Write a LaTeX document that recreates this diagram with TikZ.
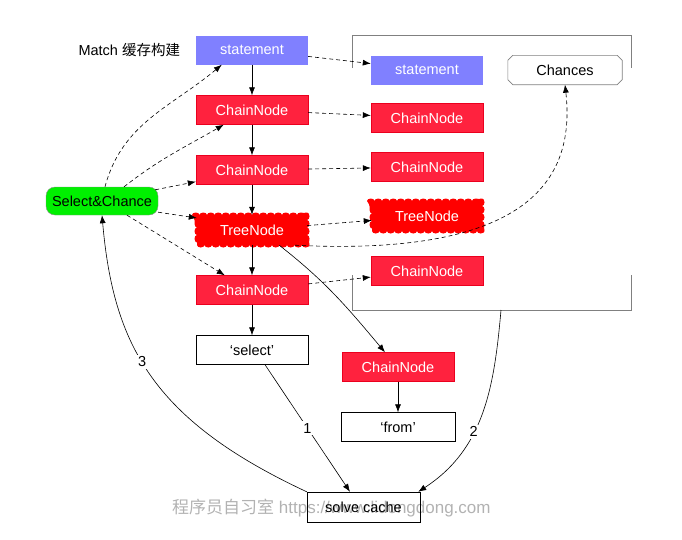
\documentclass[tikz,border=0pt]{standalone}
\usepackage{fontspec}
\setmainfont{Liberation Sans}
\newfontfamily\cjkfont{Noto Sans CJK SC}
\usepackage{tikz}
\usetikzlibrary{arrows.meta,decorations.pathmorphing}
\definecolor{stmtblue}{RGB}{128,128,255}
\definecolor{chainred}{RGB}{255,34,62}
\definecolor{chainedge}{RGB}{235,0,30}
\definecolor{treered}{RGB}{255,0,0}
\definecolor{selgreen}{RGB}{0,240,0}
\tikzstyle{stmtbox}=[rectangle,fill=stmtblue,text=white,minimum width=112pt,minimum height=29pt,inner sep=0pt]
\tikzstyle{chainbox}=[rectangle,draw=chainedge,fill=chainred,text=white,minimum width=112pt,minimum height=29pt,inner sep=0pt]
\tikzstyle{treebox}=[rectangle,fill=treered,text=white,minimum width=110pt,minimum height=30pt,inner sep=0pt,decorate,decoration={bumps,mirror,segment length=15pt,amplitude=2.5pt}]
\tikzstyle{plainbox}=[rectangle,draw=black,fill=white,minimum width=112pt,minimum height=29pt,inner sep=0pt]
\tikzstyle{chancebox}=[rectangle,minimum width=114pt,minimum height=29pt,inner sep=0pt]
\tikzstyle{chanceline}=[draw=black!50,line width=0.6pt]
\tikzstyle{selbox}=[rectangle,rounded corners=9pt,draw=black!45,fill=selgreen,minimum width=112pt,minimum height=28pt,inner sep=0pt]
\tikzstyle{frame}=[draw=black!50,line width=0.6pt]
\tikzstyle{numlabel}=[fill=white,inner sep=2pt]
\tikzstyle{wmtext}=[text=black!30,inner sep=0pt,font=\fontsize{17}{19}\selectfont]
\tikzstyle{edge} = [draw,line width=0.6pt,-{Latex[length=8pt,width=6pt]}]
\tikzstyle{cacheedge} = [draw,line width=0.6pt,dash pattern=on 4pt off 3pt,-{Latex[length=8pt,width=6pt]}]

\begin{document}
\begin{tikzpicture}[x=1pt,y=1pt,font=\fontsize{14.5}{17}\selectfont]
    \useasboundingbox (0,0) rectangle (682,-539);
    % Frame round the cached copy
    \path[frame] (352,-68) -- (352,-35) -- (631,-35) -- (631,-68);
    \path[frame] (352,-275) -- (352,-310) -- (631,-310) -- (631,-275);
    \coordinate (framefoot) at (501,-310);

    % Watermark
    \node[wmtext,anchor=west] (watermark) at (172,-508) {{\cjkfont 程序员自习室} https://www.lidongdong.com};

    % First we draw the nodes
    \node[anchor=west] (title) at (75,-50) {Match {\cjkfont 缓存构建}};
    \node[stmtbox] (stmt) at (252,-50) {statement};
    \node[stmtbox] (stmtR) at (427,-70) {statement};
    \foreach \pos/\name in {{(252,-110)/cnA}, {(252,-170)/cnB}, {(252,-290)/cnC}, {(427,-118)/cnRA}, {(427,-167)/cnRB}, {(427,-271)/cnRC}, {(398,-367)/cnD}}
        \node[chainbox] (\name) at \pos {ChainNode};
    \foreach \pos/\name in {{(252,-230)/tree}, {(427,-216)/treeR}}
        \node[treebox] (\name) at \pos {TreeNode};
    \node[chancebox] (chances) at (565,-70) {Chances};
    \path[chanceline] ([xshift=5pt]chances.north west) -- ([xshift=-5pt]chances.north east)
        -- ([yshift=-5pt]chances.north east) -- ([yshift=5pt]chances.south east)
        -- ([xshift=-5pt]chances.south east) -- ([xshift=5pt]chances.south west)
        -- ([yshift=5pt]chances.south west) -- ([yshift=-5pt]chances.north west) -- cycle;
    \node[selbox] (sel) at (102,-201) {Select\&Chance};
    \node[plainbox] (select) at (252,-350) {‘select’};
    \node[plainbox,minimum width=114pt] (from) at (398,-427) {‘from’};
    \node[plainbox,fill=none,minimum width=113pt,minimum height=30pt] (solve) at (363.5,-507) {solve cache};

    % Solid links down the chain
    \foreach \source/\dest in {stmt/cnA, cnA/cnB, cnB/tree, tree/cnC, cnC/select, cnD/from}
        \path[edge] (\source) -- (\dest);
    \path[edge] ([xshift=-28pt]tree.south east) to[out=-38,in=130] ([xshift=-13pt]cnD.north);

    % Dashed links into the cached copy
    \foreach \source/\dest in {stmt/stmtR, cnA/cnRA, cnB/cnRB, tree/treeR, cnC/cnRC}
        \path[cacheedge] (\source) -- (\dest);
    \path[cacheedge] ([xshift=-12pt]tree.south east) .. controls +(240,-12) and +(10,-90) .. (chances.south);

    % Select&Chance lookups
    \path[cacheedge] ([xshift=3pt]sel.north) to[out=75,in=220] ([xshift=26pt]stmt.south west);
    \path[cacheedge] ([xshift=22pt]sel.north) to[out=38,in=210] ([xshift=28pt]cnA.south west);
    \path[cacheedge] ([xshift=-3pt,yshift=-3pt]sel.north east) -- ([yshift=3pt]cnB.south west);
    \path[cacheedge] ([yshift=3pt]sel.south east) -- ([yshift=12pt]tree.west);
    \path[cacheedge] ([xshift=25pt]sel.south) -- ([xshift=29pt]cnC.north west);

    % Numbered steps into the solve cache
    \path[edge] ([xshift=13pt]select.south) -- node[numlabel] {1} ([xshift=-13.5pt]solve.north);
    \path[edge] (framefoot) to[out=-95,in=33] node[numlabel,pos=0.6] {2} ([xshift=-2pt]solve.north east);
    \path[edge] (solve.north west) .. controls +(155:170) and +(-85:130) .. node[numlabel,pos=0.55] {3} (sel.south);
\end{tikzpicture}
\end{document}
